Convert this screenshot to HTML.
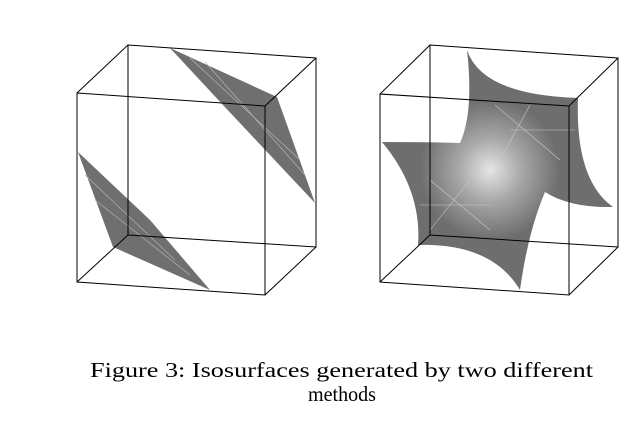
<!DOCTYPE html>
<html><head><meta charset="utf-8"><style>
html,body{margin:0;padding:0;background:#fff;}
svg{display:block;}
</style></head><body>
<svg width="642" height="432" viewBox="0 0 642 432">
<defs>
<radialGradient id="g1" cx="490" cy="170" r="70" gradientUnits="userSpaceOnUse">
<stop offset="0" stop-color="#e6e6e6"/>
<stop offset="0.45" stop-color="#a8a8a8"/>
<stop offset="1" stop-color="#6e6e6e"/>
</radialGradient>
</defs>
<g>
<polygon points="170,48 277,97 315,203 223,105" fill="#6f6f6f"/>
<polygon points="78,152 113,247 210,290 150,220" fill="#6f6f6f"/>
<g stroke="#bbb" stroke-width="0.6" fill="none">
<line x1="190" y1="58" x2="300" y2="160"/><line x1="205" y1="62" x2="305" y2="175"/>
<line x1="85" y1="175" x2="175" y2="260"/><line x1="95" y1="200" x2="190" y2="275"/>
</g>
<g stroke="#000" stroke-width="1" fill="none">
<polygon points="77,93 265,106 265,295 77,282"/>
<polygon points="128,45 316,58 316,247 128,235"/>
<line x1="77" y1="93" x2="128" y2="45"/><line x1="265" y1="106" x2="316" y2="58"/>
<line x1="265" y1="295" x2="316" y2="247"/><line x1="77" y1="282" x2="128" y2="235"/>
</g>
</g>
<g>
<path d="M467,50 Q482,95 578,98 Q575,180 613,207 Q570,208 545,192 Q528,232 520,290 Q492,243 418,245 Q422,190 382,142 Q430,142 460,143 Q474,112 467,50 Z" fill="url(#g1)"/>
<g stroke="#c8c8c8" stroke-width="0.6" fill="none">
<line x1="495" y1="105" x2="560" y2="160"/><line x1="530" y1="105" x2="500" y2="160"/>
<line x1="510" y1="130" x2="575" y2="130"/><line x1="430" y1="180" x2="490" y2="230"/>
<line x1="470" y1="180" x2="430" y2="230"/><line x1="420" y1="205" x2="490" y2="205"/>
</g>
<g stroke="#000" stroke-width="1" fill="none">
<polygon points="380,94 569,106 569,295 380,282"/>
<polygon points="430,45 618,58 618,247 430,235"/>
<line x1="380" y1="94" x2="430" y2="45"/><line x1="569" y1="106" x2="618" y2="58"/>
<line x1="569" y1="295" x2="618" y2="247"/><line x1="380" y1="282" x2="430" y2="235"/>
</g>
</g>
<text x="90" y="377" font-family="'Liberation Serif', serif" font-size="21" textLength="503" lengthAdjust="spacingAndGlyphs">Figure 3: Isosurfaces generated by two different</text>
<text x="308" y="401" font-family="'Liberation Serif', serif" font-size="21" textLength="68" lengthAdjust="spacingAndGlyphs">methods</text>
</svg>
</body></html>
